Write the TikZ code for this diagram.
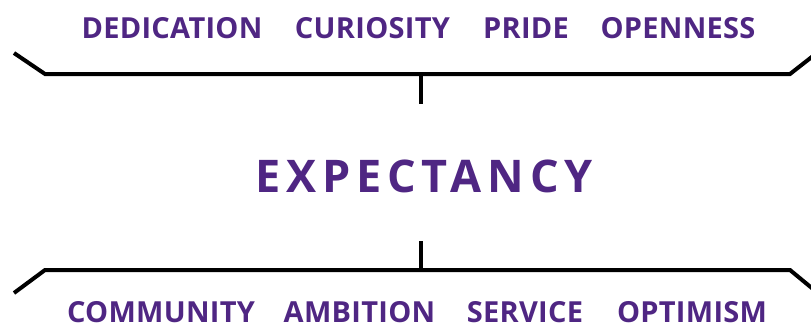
\documentclass[tikz,border=0pt]{standalone}
\usepackage{fontspec}
\setmainfont{Open Sans}
\usepackage{tikz}
\usetikzlibrary{positioning}
\definecolor{valpurple}{RGB}{79,38,131}
\newfontfamily\valuefont[LetterSpace=1]{Open Sans}
\newfontfamily\spacedfont[LetterSpace=13]{Open Sans}

\tikzset{
  word/.style={text=valpurple, font=\fontsize{29}{31}\valuefont\bfseries, inner sep=0pt, text depth=0pt, anchor=base},
  bigword/.style={text=valpurple, font=\fontsize{45}{48}\spacedfont\bfseries, inner sep=0pt, text depth=0pt, anchor=base},
  bracket/.style={line width=4pt, black}
}

\begin{document}
\begin{tikzpicture}[x=1pt, y=-1pt]
  \useasboundingbox (0,0) rectangle (811,325);
  % top values
  \node[word] (dedication) at (172,38) {DEDICATION};
  \node[word] (curiosity) at (372.5,38) {CURIOSITY};
  \node[word] (pride) at (526,38) {PRIDE};
  \node[word] (openness) at (678,38) {OPENNESS};
  % centre
  \node[bigword] (expectancy) at (424,192) {EXPECTANCY};
  % bottom values
  \node[word] (community) at (161,322) {COMMUNITY};
  \node[word] (ambition) at (359.5,322) {AMBITION};
  \node[word] (service) at (525,322) {SERVICE};
  \node[word] (optimism) at (692,322) {OPTIMISM};
  % brackets
  \coordinate (tl) at (14,53);
  \coordinate (tla) at (45,74);
  \coordinate (tra) at (790,74);
  \coordinate (tr) at (813,56);
  \coordinate (tmid) at (421,74);
  \coordinate (ttick) at (421,104);
  \coordinate (bl) at (14,293);
  \coordinate (bla) at (45,270);
  \coordinate (bra) at (790,270);
  \coordinate (br) at (813,289);
  \coordinate (bmid) at (421,270);
  \coordinate (btick) at (421,241);
  \draw[bracket] (tl) -- (tla) -- (tra) -- (tr);
  \draw[bracket] (tmid) -- (ttick);
  \draw[bracket] (bl) -- (bla) -- (bra) -- (br);
  \draw[bracket] (bmid) -- (btick);
\end{tikzpicture}
\end{document}
